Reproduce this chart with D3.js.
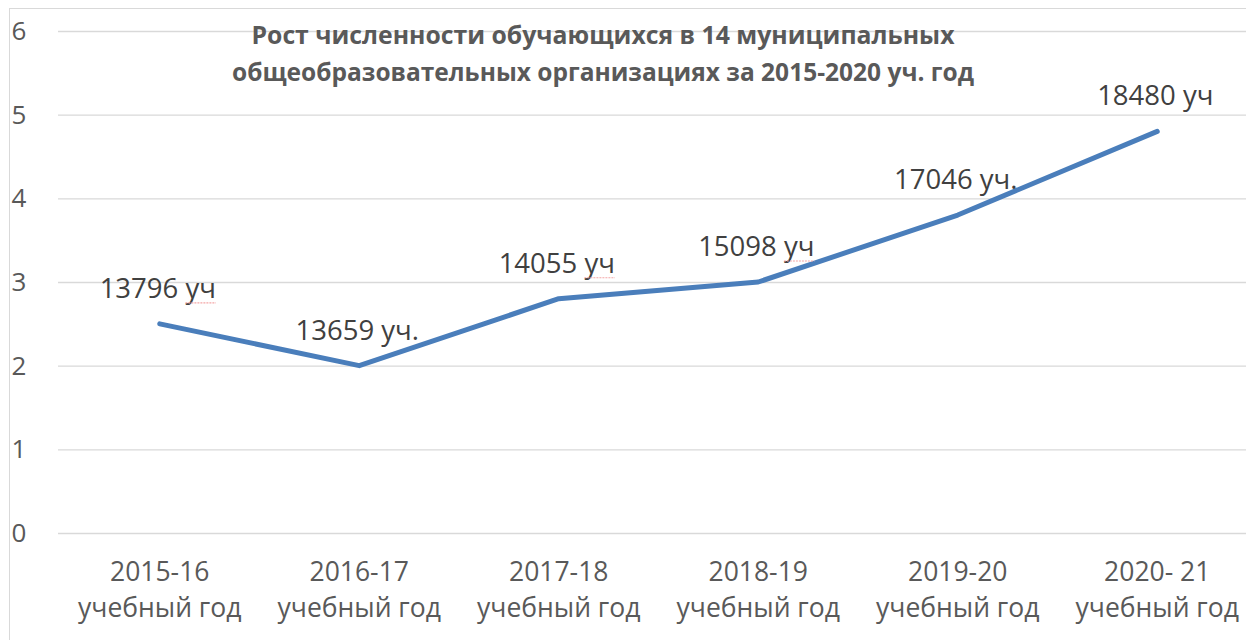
<!DOCTYPE html>
<html>
<head>
<meta charset="utf-8">
<script src="https://cdn.jsdelivr.net/npm/d3@7"></script>
<style>
  body { margin: 0; background: #fff; }
  text { font-family: "Open Sans", "DejaVu Sans", sans-serif; }
</style>
</head>
<body>
<div id="chart"></div>
<script>
// categories (two-line labels) and values
const years = ["2015-16", "2016-17", "2017-18", "2018-19", "2019-20", "2020- 21"];
const yearSuffix = "учебный год";
const values = [2.5, 2.0, 2.8, 3.0, 3.8, 4.8];
const pointLabels = ["13796 уч", "13659 уч.", "14055 уч", "15098 уч", "17046 уч.", "18480 уч"];
const underlined = [0, 2, 3]; // labels with a spell-check squiggle under "уч"
const yTicks = [0, 1, 2, 3, 4, 5, 6];
const titleLines = [
  "Рост численности обучающихся в 14 муниципальных",
  "общеобразовательных организациях за 2015-2020 уч. год"
];

const width = 1246, height = 640;
const margin = { top: 31, right: -11, bottom: 107, left: 60 };

const svg = d3.select("#chart").append("svg")
  .attr("width", width)
  .attr("height", height);

// chart frame
svg.append("rect")
  .attr("x", 9.5).attr("y", 8.5)
  .attr("width", width).attr("height", height)
  .attr("fill", "none")
  .attr("stroke", "#d9d9d9");

const x = d3.scalePoint()
  .domain(years)
  .range([margin.left, width - margin.right])
  .padding(0.5);

const y = d3.scaleLinear()
  .domain([0, 6])
  .range([height - margin.bottom, margin.top]);

// gridlines
svg.append("g")
  .attr("transform", `translate(${margin.left - 2},0)`)
  .call(d3.axisLeft(y).tickValues(yTicks).tickSize(-(width - margin.left + 2)).tickFormat(""))
  .call(g => g.select(".domain").remove())
  .call(g => g.selectAll("line").attr("stroke", "#d9d9d9").attr("stroke-width", 1.3));

// y tick labels
svg.append("g")
  .selectAll("text")
  .data(yTicks)
  .join("text")
  .attr("x", 19)
  .attr("y", d => y(d) + 9)
  .attr("text-anchor", "middle")
  .attr("fill", "#595959")
  .attr("font-size", 26)
  .text(d => d);

// x labels, two lines each
const xg = svg.append("g")
  .attr("fill", "#595959")
  .attr("font-size", 26.5)
  .attr("text-anchor", "middle");
xg.selectAll("text.yr")
  .data(years)
  .join("text")
  .attr("class", "yr")
  .attr("x", d => x(d))
  .attr("y", 581)
  .text(d => d);
xg.selectAll("text.sfx")
  .data(years)
  .join("text")
  .attr("class", "sfx")
  .attr("x", d => x(d))
  .attr("y", 617)
  .text(yearSuffix);

// title
svg.append("g")
  .selectAll("text")
  .data(titleLines)
  .join("text")
  .attr("x", 603)
  .attr("y", (d, i) => 44 + i * 37)
  .attr("text-anchor", "middle")
  .attr("font-weight", "bold")
  .attr("font-size", 25)
  .attr("fill", "#595959")
  .attr("textLength", (d, i) => i === 0 ? 703 : 742)
  .attr("lengthAdjust", "spacingAndGlyphs")
  .text(d => d);

// line
const line = d3.line()
  .x((d, i) => x(years[i]))
  .y(d => y(d));

svg.append("path")
  .datum(values)
  .attr("fill", "none")
  .attr("stroke", "#4a7ebb")
  .attr("stroke-width", 5)
  .attr("stroke-linejoin", "round")
  .attr("stroke-linecap", "round")
  .attr("d", line);

// data labels
const labels = svg.append("g")
  .selectAll("text")
  .data(values)
  .join("text")
  .attr("x", (d, i) => x(years[i]) - 2)
  .attr("y", d => y(d) - 26)
  .attr("text-anchor", "middle")
  .attr("fill", "#404040")
  .attr("font-size", 27.5)
  .text((d, i) => pointLabels[i]);

// red squiggles under "уч"
labels.each(function (d, i) {
  if (!underlined.includes(i)) return;
  const s = pointLabels[i];
  const start = s.indexOf("уч");
  const bb = this.getBBox();
  const x0 = bb.x + this.getSubStringLength(0, start);
  const w = this.getSubStringLength(start, 2);
  svg.append("line")
    .attr("x1", x0).attr("x2", x0 + w)
    .attr("y1", y(d) - 26 + 5).attr("y2", y(d) - 26 + 5)
    .attr("stroke", "#f4a6a6")
    .attr("stroke-width", 1.2)
    .attr("stroke-dasharray", "2,1");
});
</script>
</body>
</html>
